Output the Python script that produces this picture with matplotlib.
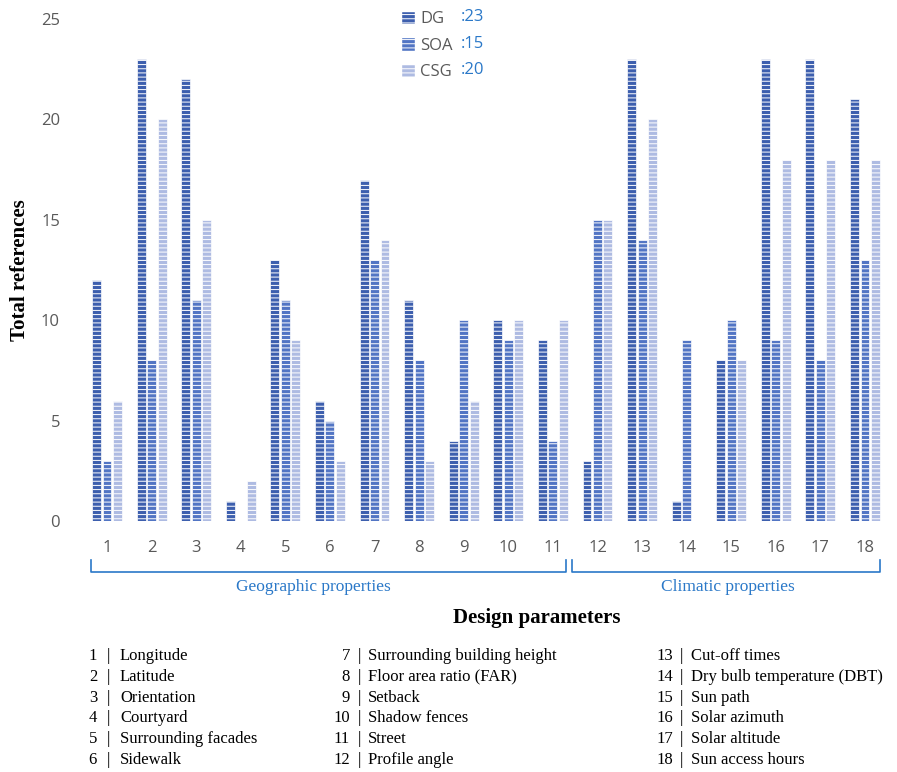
import numpy as np
import matplotlib.pyplot as plt
from matplotlib.patches import Patch

plt.rcParams['hatch.linewidth'] = 0.7

# data
params = list(range(1, 19))
dg = [12, 23, 22, 1, 13, 6, 17, 11, 4, 10, 9, 3, 23, 1, 8, 23, 23, 21]
soa = [3, 8, 11, 0, 11, 5, 13, 8, 10, 9, 4, 15, 14, 9, 10, 9, 8, 13]
csg = [6, 20, 15, 2, 9, 3, 14, 3, 6, 10, 10, 15, 20, 0, 8, 18, 18, 18]
series_names = ["DG", "SOA", "CSG"]
series_counts = [23, 15, 20]
param_names = ["Longitude", "Latitude", "Orientation", "Courtyard",
               "Surrounding facades", "Sidewalk", "Surrounding building height",
               "Floor area ratio (FAR)", "Setback", "Shadow fences", "Street",
               "Profile angle", "Cut-off times", "Dry bulb temperature (DBT)",
               "Sun path", "Solar azimuth", "Solar altitude", "Sun access hours"]

colors = ["#3d5fae", "#5275c4", "#aebbe2"]
blue = "#2a78c8"
grey = "#595959"
serif = "Liberation Serif"

W, H = 897, 772
fig = plt.figure(figsize=(W / 100, H / 100), dpi=100)
# axes: x=85..885 px, y(0)=521 px, y(25)=19 px
ax = fig.add_axes([85 / W, 1 - 521 / H, 800 / W, (521 - 19) / H])

x = np.array(params)
w = 0.2
off = 0.235
for i, vals in enumerate([dg, soa, csg]):
    ax.bar(x + (i - 1) * off, vals, width=w, color=colors[i],
           edgecolor="white", linewidth=0.5, hatch="----")

ax.set_xlim(1 - 22 / 44.6, 18 + 20 / 44.6)
ax.set_ylim(0, 25)
ax.set_yticks([0, 5, 10, 15, 20, 25])
ax.set_xticks(x)
ax.tick_params(length=0, labelsize=12, colors=grey)
ax.tick_params(axis='x', pad=14)
ax.tick_params(axis='y', pad=18)
for s in ax.spines.values():
    s.set_visible(False)
for t in ax.get_xticklabels() + ax.get_yticklabels():
    t.set_fontfamily("Open Sans")
    t.set_color(grey)

ax.set_ylabel("Total references", fontsize=15, fontweight="bold",
              family=serif, labelpad=8)

# legend
handles = [Patch(facecolor=c, edgecolor="white", hatch="----") for c in colors]
leg = fig.legend(handles, series_names, loc="upper left",
                 bbox_to_anchor=(386 / W, 1 + 4 / H), frameon=False,
                 prop={"family": "Open Sans", "size": 12},
                 handlelength=0.85, handleheight=0.85, handletextpad=0.3,
                 labelspacing=0.6)
for t in leg.get_texts():
    t.set_color(grey)
for k, n in enumerate(series_counts):
    fig.text(461 / W, 1 - (17 + k * 26.5) / H, ":" + str(n), color=blue,
             fontsize=12, family="Open Sans", va="center")

# brackets
def bracket(x0, x1, label, lx):
    yb = 1 - 572 / H
    yt = 1 - 560 / H
    fig.add_artist(plt.Line2D([x0 / W, x0 / W, x1 / W, x1 / W], [yt, yb, yb, yt],
                              color=blue, lw=1.2))
    fig.text(lx / W, 1 - 587 / H, label, color=blue, fontsize=12.5,
             family=serif, ha="center", va="center")

bracket(91, 566, "Geographic properties", 313)
bracket(572, 880, "Climatic properties", 728)

fig.text(537 / W, 1 - 618 / H, "Design parameters", fontsize=15,
         fontweight="bold", family=serif, ha="center", va="center")

# parameter list
cols = [(97, 108, 120), (350, 359, 368), (673, 681, 691)]
for i, name in enumerate(param_names):
    c = cols[i // 6]
    y = 1 - (656 + (i % 6) * 20.8) / H
    fig.text(c[0] / W, y, str(i + 1), fontsize=12, family=serif, ha="right", va="center")
    fig.text(c[1] / W, y, "|", fontsize=12, family=serif, ha="center", va="center")
    fig.text(c[2] / W, y, name, fontsize=12, family=serif, ha="left", va="center")

fig.savefig("out.png", dpi=100, facecolor="white")
